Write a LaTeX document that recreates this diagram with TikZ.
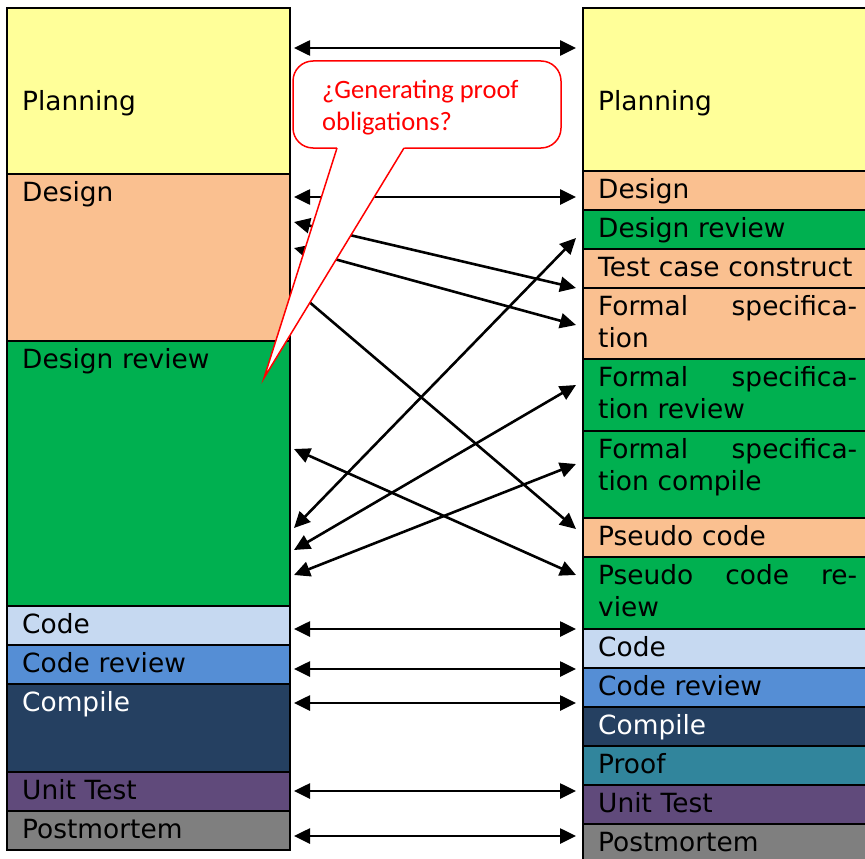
\documentclass[tikz,border=0pt]{standalone}
\usepackage{fontspec}
\setmainfont{DejaVu Sans}
\newfontfamily\calloutfont{Carlito}
\usetikzlibrary{arrows.meta}
\definecolor{planyellow}{HTML}{FFFF99}
\definecolor{designpeach}{HTML}{FAC090}
\definecolor{reviewgreen}{HTML}{00B050}
\definecolor{codeblue}{HTML}{C6D9F1}
\definecolor{crevblue}{HTML}{558ED5}
\definecolor{compnavy}{HTML}{254061}
\definecolor{proofteal}{HTML}{31859C}
\definecolor{testpurple}{HTML}{604A7B}
\definecolor{pmgray}{HTML}{7F7F7F}

\tikzset{
  box/.style={draw, line width=2.4pt, anchor=north west, inner sep=0pt, outer sep=0pt},
  lbl/.style={anchor=north west, inner sep=0pt, text width=259pt, align=left,
    font=\fontsize{26.4}{32}\selectfont, execute at begin node={\noindent\rule{0pt}{22pt}}},
  link/.style={{Triangle[length=16pt,width=15pt]}-{Triangle[length=16pt,width=15pt]}, line width=2.6pt},
  callout/.style={draw=red, line width=1.5pt, fill=white}
}

\begin{document}
\begin{tikzpicture}[x=1pt,y=-1pt]
\clip (0,0) rectangle (865,859);
% left column
\foreach \n/\t/\b/\c/\tc/\o/\s in {lPlan/8/174/planyellow/black/80/Planning,
    lDes/174/341/designpeach/black/5/Design, lDrev/341/606/reviewgreen/black/5/Design review,
    lCode/606/645/codeblue/black/5/Code, lCrev/645/684/crevblue/black/5/Code review,
    lComp/684/772/compnavy/white/5/Compile, lUt/772/811/testpurple/black/5/Unit Test,
    lPm/811/850/pmgray/black/5/Postmortem} {
  \node[box, fill=\c, minimum width=283pt, minimum height={(\b-\t)*1pt}] (\n) at (7,\t) {};
  \node[lbl, text=\tc] (\n-t) at ([shift={(15,\o)}]\n.north west) {\s};
}
% right column
\foreach \n/\t/\b/\c/\tc/\o/\s in {rPlan/8/171/planyellow/black/80/Planning,
    rDes/171/210/designpeach/black/5/Design, rDrev/210/249/reviewgreen/black/5/Design review,
    rTcc/249/288/designpeach/black/5/Test case construct,
    rFs/288/359/designpeach/black/5/{Formal\hfill specifica-\\tion},
    rFsr/359/431/reviewgreen/black/5/{Formal\hfill specifica-\\tion review},
    rFsc/431/518/reviewgreen/black/5/{Formal\hfill specifica-\\tion compile},
    rPc/518/557/designpeach/black/5/Pseudo code,
    rPcr/557/629/reviewgreen/black/5/{Pseudo\hfill code\hfill re-\\view},
    rCode/629/668/codeblue/black/5/Code, rCrev/668/707/crevblue/black/5/Code review,
    rComp/707/746/compnavy/white/5/Compile, rProof/746/785/proofteal/black/5/Proof,
    rUt/785/824/testpurple/black/5/Unit Test, rPm/824/870/pmgray/black/5/Postmortem} {
  \node[box, fill=\c, minimum width=300pt, minimum height={(\b-\t)*1pt}] (\n) at (583,\t) {};
  \node[lbl, text=\tc] (\n-t) at ([shift={(15,\o)}]\n.north west) {\s};
}
% phase mapping
\foreach \i/\yl/\yr in {1/48/48, 2/197/197, 3/222/288, 4/248/325, 5/289/529, 6/528/238,
    7/550/385, 8/575/464, 9/449/575, 10/629/629, 11/669/669, 12/703/703, 13/791/791, 14/836/836} {
  \coordinate (L\i) at (294,\yl);
  \coordinate (R\i) at (576,\yr);
  \draw[link] (L\i) -- (R\i);
}
% callout
\draw[callout, rounded corners=20pt] (293,61) rectangle (561,148);
\fill[white] (337.6,146) -- (264,378) -- (405.2,146) -- cycle;
\draw[red, line width=1.5pt] (337,148) -- (264,378) -- (404,148);
\node[anchor=north west, inner sep=0pt, align=left, text=red,
  font=\calloutfont\fontsize{26.5}{32}\selectfont] (note) at (322,76)
  {\rule{0pt}{22pt}¿Generating proof\\obligations?};
\end{tikzpicture}
\end{document}
